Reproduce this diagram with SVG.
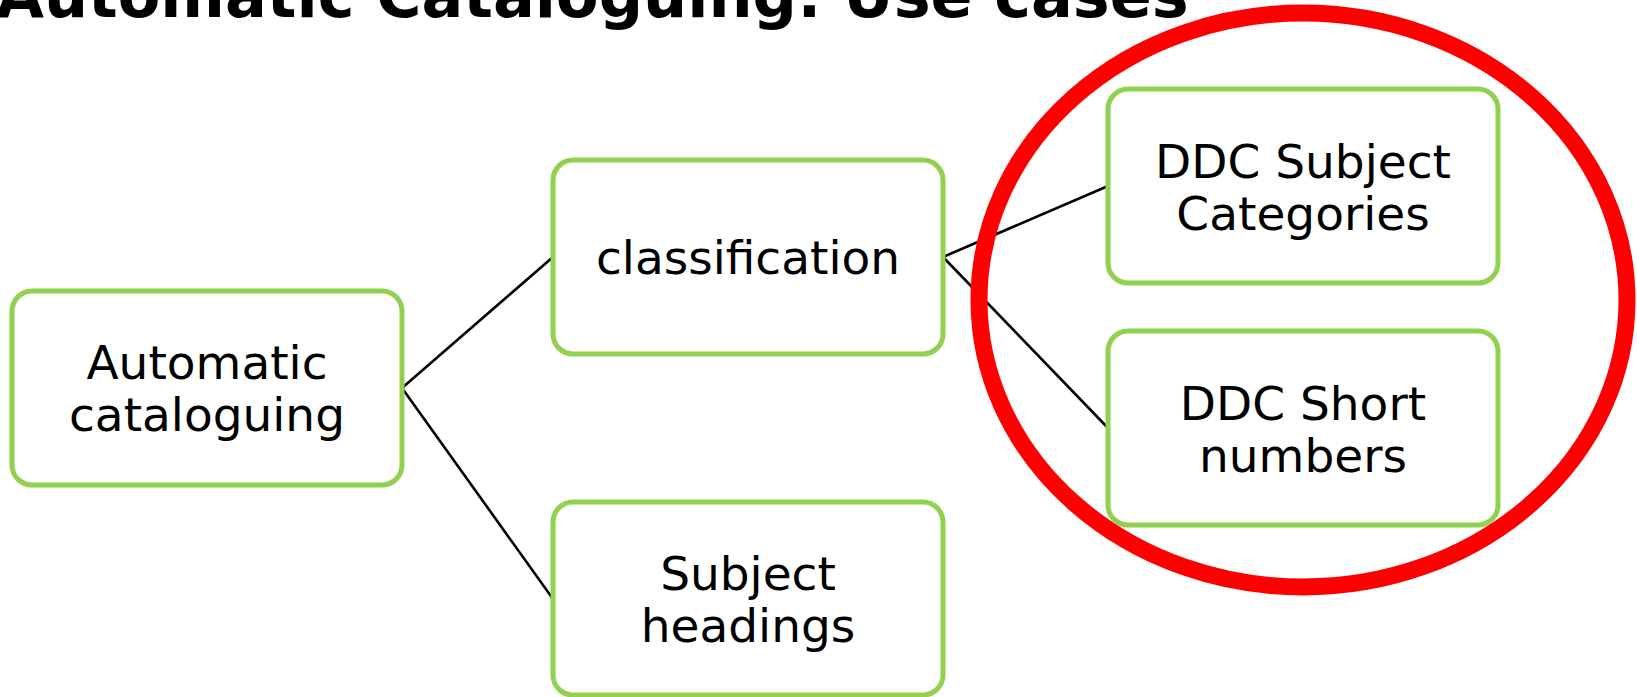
<svg xmlns="http://www.w3.org/2000/svg" width="1637" height="697" viewBox="0 0 1637 697">
<style>
.box{fill:#ffffff;stroke:#92D050;stroke-width:5}
.lbl{font-family:"DejaVu Sans","Liberation Sans",sans-serif;font-size:47px;fill:#000;text-anchor:middle}
.title{font-family:"DejaVu Sans","Liberation Sans",sans-serif;font-size:62px;font-weight:bold;fill:#000}
.conn line{stroke:#000;stroke-width:2.6}
</style>
<rect width="1637" height="697" fill="#ffffff"/>
<text class="title" x="-4" y="17">Automatic Cataloguing: Use cases</text>
<g id="connectors" class="conn">
<line x1="402" y1="388" x2="553" y2="257"/>
<line x1="402" y1="388" x2="553" y2="599"/>
<line x1="943" y1="257" x2="1108" y2="186"/>
<line x1="943" y1="257" x2="1108" y2="428"/>
</g>
<g id="node-automatic">
<rect class="box" x="12" y="291" width="390" height="194" rx="20"/>
<text class="lbl" x="207" y="379">Automatic</text>
<text class="lbl" x="207" y="431">cataloguing</text>
</g>
<g id="node-classification">
<rect class="box" x="553" y="160" width="390" height="194" rx="20"/>
<text class="lbl" x="748" y="274">classification</text>
</g>
<g id="node-subject-headings">
<rect class="box" x="553" y="502" width="390" height="193" rx="20"/>
<text class="lbl" x="748" y="590">Subject</text>
<text class="lbl" x="748" y="642">headings</text>
</g>
<g id="node-ddc-subject">
<rect class="box" x="1108" y="89" width="390" height="194" rx="20"/>
<text class="lbl" x="1303" y="178">DDC Subject</text>
<text class="lbl" x="1303" y="230">Categories</text>
</g>
<g id="node-ddc-short">
<rect class="box" x="1108" y="331" width="390" height="194" rx="20"/>
<text class="lbl" x="1303" y="420">DDC Short</text>
<text class="lbl" x="1303" y="472">numbers</text>
</g>
<g id="highlight">
<ellipse cx="1303" cy="300" rx="324" ry="287" fill="none" stroke="#FF0000" stroke-width="17"/>
</g>
</svg>
